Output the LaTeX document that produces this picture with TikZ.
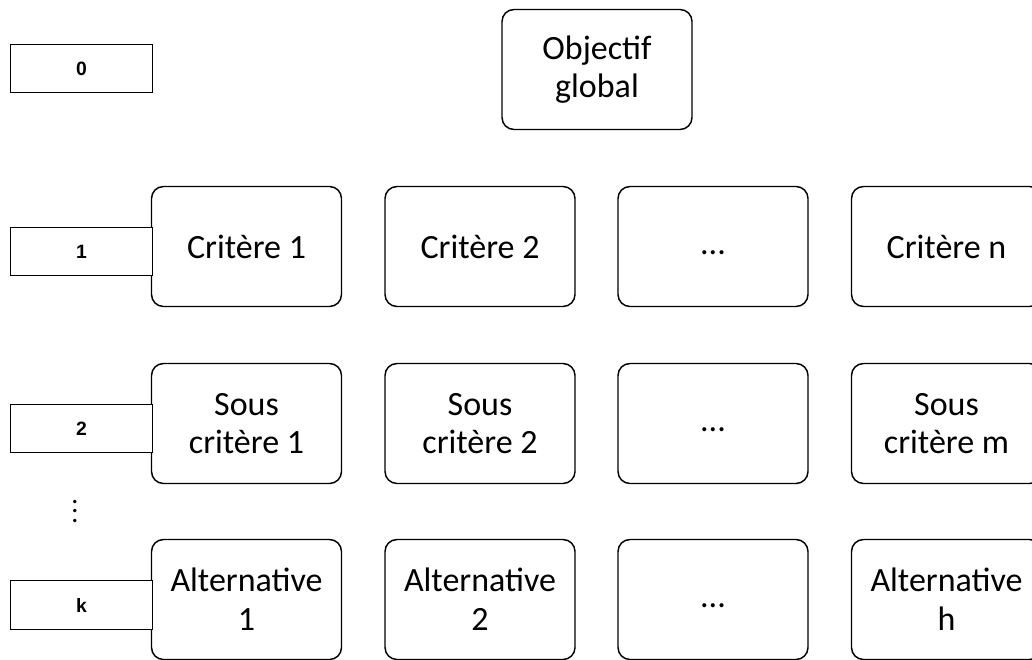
\documentclass[tikz,border=0pt]{standalone}
\usepackage{fontspec}
\setmainfont{Carlito}
\newfontfamily\levelfont{Liberation Sans}
\usepackage{xcolor}
\usepackage{tikz}
\usetikzlibrary{positioning}
\newcommand\gapdots{\strut...}
\newcommand\stackdots{\vbox{\baselineskip=7.1pt\lineskiplimit=-10pt\hbox{.}\hbox{.}\hbox{.}}}
\tikzset{
  critbox/.style={draw,line width=1.1pt,rounded corners=9pt,minimum width=142.5pt,minimum height=90pt,inner sep=0pt,align=center,font=\fontsize{25.5}{29}\selectfont},
  levelbox/.style={draw,line width=0.75pt,fill=white,minimum width=106.5pt,minimum height=36.5pt,inner sep=0pt,font=\levelfont\bfseries\fontsize{14.5}{17}\selectfont}
}

\begin{document}
\begin{tikzpicture}[x=0.75pt,y=-0.75pt]
  \clip (0,0) rectangle (1032,660);
  \node[critbox] (goal) at (597,69.5) {Objectif\\global};
  \foreach \c/\xc/\lab in {1/246.5/Critère 1,2/480/Critère 2,3/713/\gapdots,4/946.5/Critère n}{
    \node[critbox] (crit\c) at (\xc,246.5) {\lab};
  }
  \foreach \c/\xc/\lab in {1/246.5/{Sous\\critère 1},2/480/{Sous\\critère 2},3/713/\gapdots,4/946.5/{Sous\\critère m}}{
    \node[critbox] (sub\c) at (\xc,423.5) {\lab};
  }
  \foreach \c/\xc/\lab in {1/246.5/{Alternative\\1},2/480/{Alternative\\2},3/713/\gapdots,4/946.5/{Alternative\\h}}{
    \node[critbox] (alt\c) at (\xc,599.5) {\lab};
  }
  \foreach \n/\yc in {0/68.5,1/251.5,2/428.5,k/605}{
    \node[levelbox] (level\n) at (81.5,\yc) {\n};
  }
  \node[inner sep=0pt,font=\fontsize{21}{24}\selectfont] (leveldots) at (75,511.5) {\stackdots};
\end{tikzpicture}
\end{document}
